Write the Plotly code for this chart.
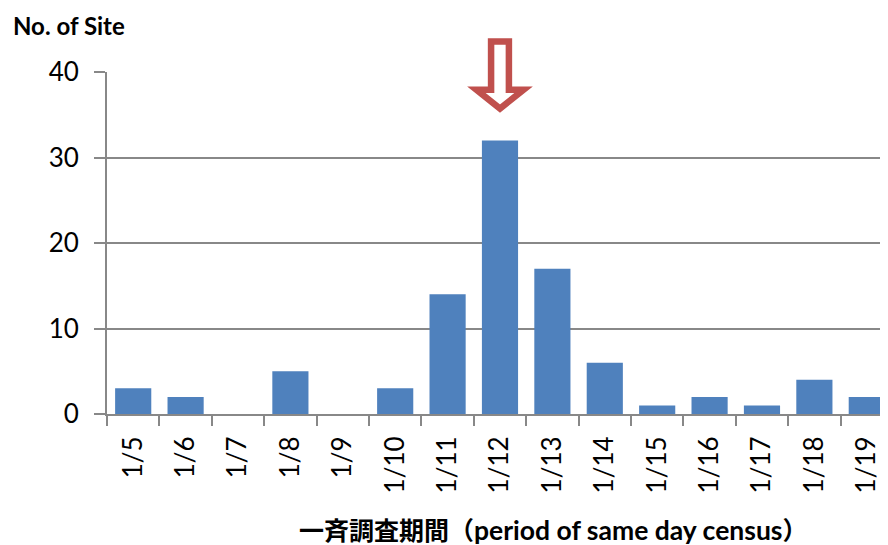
import plotly.graph_objects as go

categories = ["1/5", "1/6", "1/7", "1/8", "1/9", "1/10", "1/11", "1/12",
              "1/13", "1/14", "1/15", "1/16", "1/17", "1/18", "1/19"]
sites = [3, 2, 0, 5, 0, 3, 14, 32, 17, 6, 1, 2, 1, 4, 2]
y_ticks = [0, 10, 20, 30, 40]
highlight = "1/12"

# page has an 8px body margin; figure coords = page coords - 8
W, H = 880, 537
ML, MR, MT, MB = 99, 0, 64, 131
PW, PH = W - ML - MR, H - MT - MB
grid_col = "#888888"
font_fam = "Lato, 'Open Sans', sans-serif"

fig = go.Figure()
fig.add_trace(go.Bar(
    x=categories, y=sites,
    marker=dict(color="#4F81BD", line=dict(width=0)),
    width=0.69,
))

# outlined down arrow above the highlighted category
ci = categories.index(highlight)
sh, hh = 0.17, 0.45          # half widths (category units) of shaft & head
y_top, y_base, y_tip = 1.089, 0.948, 0.893   # paper units
path = (f"M {ci-sh},{y_top} L {ci+sh},{y_top} L {ci+sh},{y_base} "
        f"L {ci+hh},{y_base} L {ci},{y_tip} L {ci-hh},{y_base} "
        f"L {ci-sh},{y_base} Z")
fig.add_shape(type="path", path=path, xref="x", yref="paper",
              line=dict(color="#C0504D", width=6.5), fillcolor="white",
              layer="above")

fig.update_layout(
    width=W, height=H,
    margin=dict(l=ML, r=MR, t=MT, b=MB),
    paper_bgcolor="white", plot_bgcolor="white",
    showlegend=False,
    font=dict(family=font_fam, color="black", size=26),
    title=dict(text="<b>No. of Site</b>", x=5 / W, xanchor="left", xref="container",
               y=1 - 19 / H, yanchor="middle", yref="container",
               font=dict(family=font_fam, size=24, color="black")),
    bargap=0.31,
)

fig.update_xaxes(
    type="category", range=[-0.5, 14.405],
    tickangle=-90, tickson="boundaries", ticks="outside", ticklen=10,
    tickwidth=2, tickcolor=grid_col,
    showline=True, linecolor=grid_col, linewidth=2,
    showgrid=False, zeroline=False,
    tickfont=dict(size=26, family=font_fam), ticklabelstandoff=10,
)
fig.update_yaxes(
    range=[0, 40], tickvals=y_ticks,
    ticks="outside", ticklen=11, tickwidth=2, tickcolor=grid_col,
    showline=True, linecolor=grid_col, linewidth=2,
    showgrid=True, gridcolor=grid_col, gridwidth=2, zeroline=False,
    tickfont=dict(size=26, family=font_fam), ticklabelstandoff=10,
)

cjk = "font-family:'Noto Sans CJK JP';font-size:25px"
fig.add_annotation(
    text=(f"<b><span style=\"{cjk}\">一斉調査期間（</span>"
          "period of same day census"
          f"<span style=\"{cjk}\">）</span></b>"),
    xref="paper", yref="paper", x=(553 - 8 - ML) / PW,
    y=(406 - 521) / PH, xanchor="center", yanchor="middle",
    showarrow=False, font=dict(family=font_fam, size=26.5, color="black"),
)

fig.write_html("out.html")
